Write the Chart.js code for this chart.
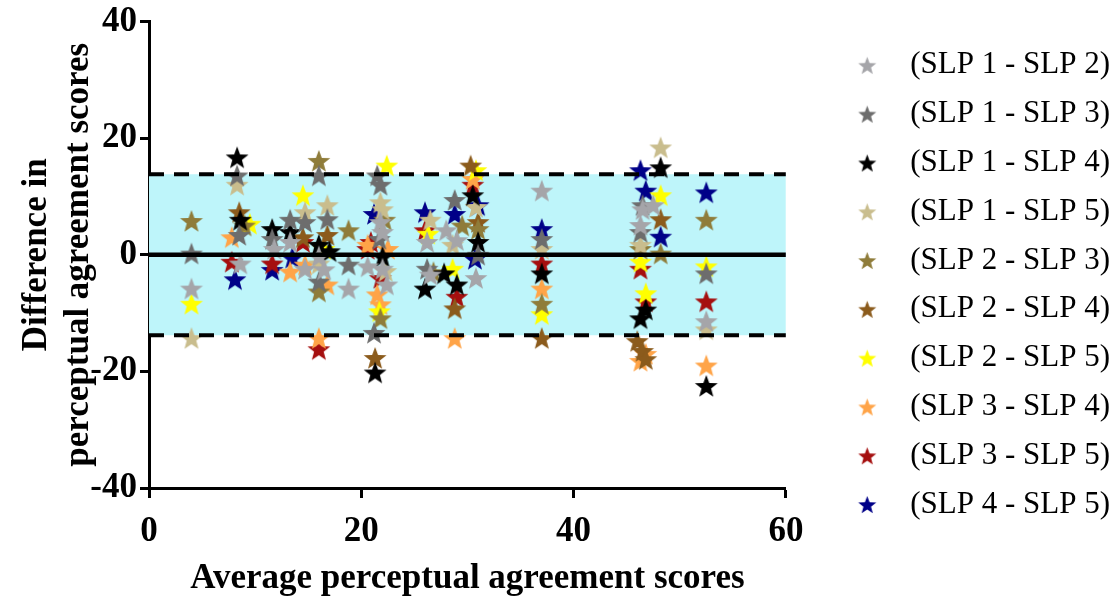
<!DOCTYPE html>
<html>
<head>
<meta charset="utf-8">
<script src="https://cdn.jsdelivr.net/npm/chart.js@4.4.1/dist/chart.umd.min.js"></script>
<style>
  html, body { margin: 0; padding: 0; background: #fff; }
  #wrap { width: 1120px; height: 601px; }
</style>
</head>
<body>
<div id="wrap"><canvas id="c" width="1120" height="601"></canvas></div>
<script>
// each pair is [average score, difference]
var slp12 = [[4,-5.8],[8.6,-1.5],[11.8,1],[13.3,2.2],[14.7,-2.4],[16,-0.3],[16.5,-2.5],[18.8,-5.8],[20.6,-2],[21.8,5.6],[22,3.9],[22,-2.4],[22.4,-5.1],[26.2,2.2],[26.5,-3.4],[28,4.2],[29,2.5],[30.8,-4],[37,11],[46.3,5.1],[46.5,7.8],[47.5,8.5],[52.5,-11.4]]
var slp13 = [[4,0.2],[8.3,13.6],[8.5,3.4],[11.6,2.7],[13.3,6],[14.7,5.6],[16,13.6],[16.8,6.1],[16,-4.6],[18.8,-1.7],[21.5,13.6],[21.8,12],[21.7,2.7],[21.2,-13.4],[26.2,-2.4],[28.8,9.4],[31,0],[37,2.7],[46.3,3.9],[46.5,8.5],[52.5,-3.2]]
var slp14 = [[8.3,16.7],[8.6,6],[11.6,4.4],[13.3,3.9],[16,1.7],[17,0.6],[22,-0.3],[21.3,-20.2],[26,-5.8],[27.8,-3.2],[29,-5.1],[30.5,10.2],[31,2.2],[37,-3.2],[46.3,-10.9],[46.8,-9.4],[48.2,15],[52.5,-22.5]]
var slp15 = [[4,-14.3],[8.3,12],[14.7,7.3],[16.8,8.5],[21.8,9],[22,7.8],[26.5,6],[28.6,1.7],[30.8,8.2],[37,1],[46.3,1.7],[48.2,18.4],[52.5,-12.8],[16,-1.5],[22.3,-2.8]]
var slp23 = [[4,5.8],[9,5],[16,16.1],[16,-6.3],[18.8,4.2],[21.8,-10.9],[22.2,6],[26.8,-3],[29.5,5],[31,4.4],[37,-8.4],[46.3,1],[48.2,0.2],[52.5,6]]
var slp24 = [[8.5,7.3],[14.5,3],[16.8,3.4],[21.3,-17.7],[28.8,-9.2],[30.3,15.3],[31,5.6],[37,-14.3],[46,-14.8],[46.5,-16.5],[46.8,-17.9],[48.2,6.1]]
var slp25 = [[4,-8.4],[9.5,5.3],[14.5,10.2],[16.5,1],[22.4,15.3],[21.7,-9.7],[26.3,3.6],[28.6,-2.4],[30.8,14.5],[37,-10.2],[46.3,-1.2],[46.8,-6.6],[48.2,10.2],[52.5,-2]]
var slp34 = [[7.8,3],[13.3,-2.9],[14.7,-1.7],[16,-14.3],[16.8,-5.1],[20.6,1.7],[21.5,-6.8],[21.8,-8.5],[22.5,1],[28.8,-14.3],[30.5,13],[37,-5.8],[46.3,-18.2],[46.8,-17],[52.5,-19]]
var slp35 = [[7.8,-1.2],[11.6,-1.5],[14.5,2.2],[16,-16.2],[20.6,1],[20.9,2.2],[21.8,-4],[26,4.2],[29,-7.2],[30.5,12],[37,-1.5],[46.3,-2.4],[46.8,-8],[52.5,-8]]
var slp45 = [[8.1,-4.2],[11.6,-2.6],[13.5,-0.5],[21.2,7],[26,7.3],[28.8,7],[31,8.5],[30.7,-0.7],[37,4.4],[46.3,14.5],[46.8,11],[48.2,3.1],[52.5,10.7]]

var labels = ['(SLP 1 - SLP 2)','(SLP 1 - SLP 3)','(SLP 1 - SLP 4)','(SLP 1 - SLP 5)','(SLP 2 - SLP 3)',
              '(SLP 2 - SLP 4)','(SLP 2 - SLP 5)','(SLP 3 - SLP 4)','(SLP 3 - SLP 5)','(SLP 4 - SLP 5)']
var series = [slp12, slp13, slp14, slp15, slp23, slp24, slp25, slp34, slp35, slp45]
var colors = ['#a5a5a9','#6d6d6d','#000000','#c9bd8d','#8f7c3a','#8b5b1c','#ffff00','#ffa448','#a50f0f','#000088']

var meanDiff = 0
var upperLoA = 13.8
var lowerLoA = -13.8
var xRange = [0, 60]
var xTicks = [0, 20, 40, 60]
var yTicks = [-40, -20, 0, 20, 40]

var FONT = "'Liberation Serif', 'Times New Roman', serif"

function makeStar(color, r){
    var size = Math.ceil(r * 2) + 2
    var c = document.createElement('canvas')
    c.width = c.height = size
    var g = c.getContext('2d')
    g.fillStyle = color
    g.beginPath()
    for(var i = 0; i < 10; i++){
        var rad = i % 2 ? r * 0.42 : r
        var a = -Math.PI / 2 + i * Math.PI / 5
        g.lineTo(size / 2 + rad * Math.cos(a), size / 2 + 1 + rad * Math.sin(a))
    }
    g.closePath()
    g.fill()
    return c
}

var plotStars = colors.map(function(c){ return makeStar(c, 12) })
var legendStars = colors.map(function(c){ return makeStar(c, 9.5) })

function toXY(arr){ return arr.map(function(p){ return {x: p[0], y: p[1]} }) }
function hline(v){ return [{x: xRange[0], y: v}, {x: xRange[1], y: v}] }

var datasets = series.map(function(s, i){
    return {
        label: labels[i],
        data: toXY(s),
        pointStyle: plotStars[i],
        backgroundColor: colors[i],
        borderColor: colors[i],
        order: 0
    }
})
datasets.push({type: 'line', label: 'mean', data: hline(meanDiff), borderColor: '#000', borderWidth: 4.5, pointRadius: 0, fill: false, order: -1})
datasets.push({type: 'line', label: 'upper', data: hline(upperLoA), borderColor: '#000', borderWidth: 4, borderDash: [15, 10], pointRadius: 0,
    fill: '+1', backgroundColor: 'rgb(190,245,250)', order: -1})
datasets.push({type: 'line', label: 'lower', data: hline(lowerLoA), borderColor: '#000', borderWidth: 4, borderDash: [15, 10], pointRadius: 0, fill: false, order: -1})

var chart = new Chart(document.getElementById('c'), {
    type: 'scatter',
    data: {datasets: datasets},
    options: {
        responsive: false,
        animation: false,
        devicePixelRatio: 1,
        layout: {padding: 0},
        plugins: {
            tooltip: {enabled: false},
            filler: {drawTime: 'beforeDatasetsDraw'},
            legend: {
                position: 'right',
                align: 'start',
                maxWidth: 400,
                title: {display: true, text: ' ', font: {size: 10, lineHeight: 1}, padding: {top: 22, bottom: 0}},
                labels: {
                    usePointStyle: true,
                    pointStyleWidth: 55,
                    padding: 17.8,
                    color: '#000',
                    font: {family: FONT, size: 31},
                    filter: function(item){ return item.datasetIndex < series.length },
                    generateLabels: function(ch){
                        var items = Chart.defaults.plugins.legend.labels.generateLabels(ch)
                        items.forEach(function(it){
                            if(it.datasetIndex < series.length) it.pointStyle = legendStars[it.datasetIndex]
                        })
                        return items
                    }
                }
            }
        },
        scales: {
            x: {
                type: 'linear',
                min: xRange[0],
                max: xRange[1],
                afterBuildTicks: function(s){ s.ticks = xTicks.map(function(v){ return {value: v} }) },
                afterFit: function(s){ s.height = 113 },
                grid: {drawOnChartArea: false, tickLength: 10, tickWidth: 3, tickColor: '#000'},
                border: {color: '#000', width: 3},
                ticks: {color: '#000', padding: 15, font: {family: FONT, size: 35, weight: 'bold', lineHeight: 1.06}},
                title: {display: true, text: 'Average perceptual agreement scores', color: '#000',
                    padding: {top: 0, bottom: 1}, font: {family: FONT, size: 35, weight: 'bold', lineHeight: 1.2}}
            },
            y: {
                min: -40,
                max: 40,
                afterBuildTicks: function(s){ s.ticks = yTicks.map(function(v){ return {value: v} }) },
                afterFit: function(s){ s.width = 149 },
                grid: {drawOnChartArea: false, tickLength: 9, tickWidth: 3, tickColor: '#000'},
                border: {color: '#000', width: 3},
                ticks: {color: '#000', padding: 3, font: {family: FONT, size: 35, weight: 'bold', lineHeight: 1.06}},
                title: {display: true, text: ['Difference in', 'perceptual agreement scores'], color: '#000',
                    padding: {top: 16, bottom: 0}, font: {family: FONT, size: 35, weight: 'bold', lineHeight: 1.2}}
            },
            y2: {
                position: 'right',
                display: true,
                afterFit: function(s){ s.width = 36 },
                grid: {display: false},
                border: {display: false},
                ticks: {display: false}
            }
        }
    }
})
</script>
</body>
</html>
